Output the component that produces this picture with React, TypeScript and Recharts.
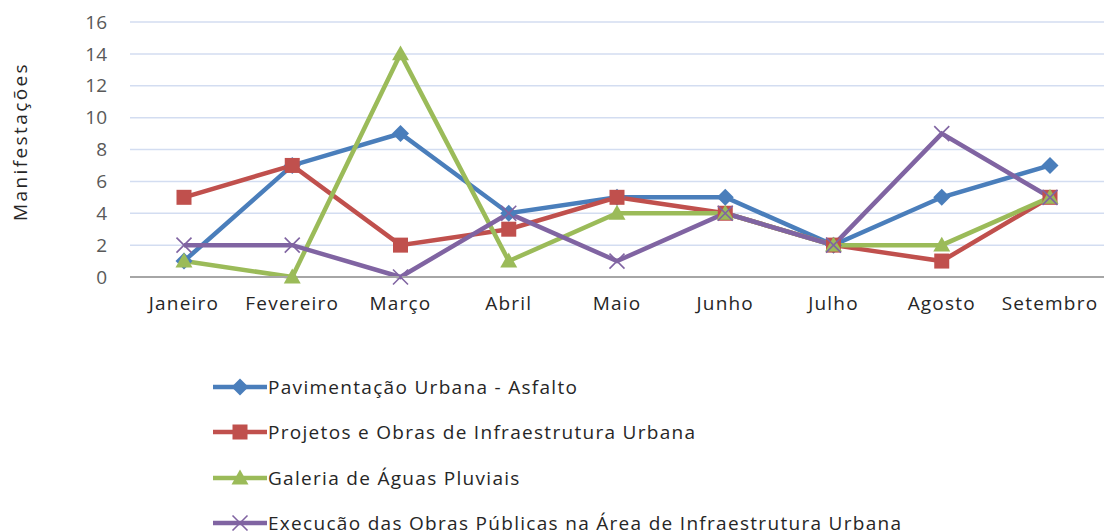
import React from "react";
import { LineChart, Line, XAxis, YAxis, CartesianGrid } from "recharts";

const months = ["Janeiro", "Fevereiro", "Março", "Abril", "Maio", "Junho", "Julho", "Agosto", "Setembro"];
const pavimentacao = [1, 7, 9, 4, 5, 5, 2, 5, 7];
const projetos = [5, 7, 2, 3, 5, 4, 2, 1, 5];
const galeria = [1, 0, 14, 1, 4, 4, 2, 2, 5];
const execucao = [2, 2, 0, 4, 1, 4, 2, 9, 5];
const yTicks = [0, 2, 4, 6, 8, 10, 12, 14, 16];

const FONT = "'Open Sans', sans-serif";

const series = [
  { key: "pav", name: "Pavimentação Urbana - Asfalto", color: "#4a7ebb", marker: "diamond" },
  { key: "proj", name: "Projetos e Obras de Infraestrutura Urbana", color: "#c0504d", marker: "square" },
  { key: "gal", name: "Galeria de Águas Pluviais", color: "#9bbb59", marker: "triangle" },
  { key: "exec", name: "Execucão das Obras Públicas na Área de Infraestrutura Urbana", color: "#8064a2", marker: "x" },
];

const data = months.map((m, i) => ({
  month: m,
  pav: pavimentacao[i],
  proj: projetos[i],
  gal: galeria[i],
  exec: execucao[i],
}));

function Marker({ type, cx, cy, color }: { type: string; cx: number; cy: number; color: string }) {
  if (cx == null || cy == null) return null;
  if (type === "diamond") {
    const r = 8.5;
    return <polygon points={`${cx},${cy - r} ${cx + r},${cy} ${cx},${cy + r} ${cx - r},${cy}`} fill={color} />;
  }
  if (type === "square") {
    const r = 7.5;
    return <rect x={cx - r} y={cy - r} width={r * 2} height={r * 2} fill={color} />;
  }
  if (type === "triangle") {
    const r = 8.5;
    return <polygon points={`${cx},${cy - r} ${cx + r},${cy + r * 0.75} ${cx - r},${cy + r * 0.75}`} fill={color} />;
  }
  const r = 7.5;
  return (
    <g stroke={color} strokeWidth={1.6}>
      <line x1={cx - r} y1={cy - r} x2={cx + r} y2={cy + r} />
      <line x1={cx - r} y1={cy + r} x2={cx + r} y2={cy - r} />
    </g>
  );
}

function YLabel(props: any) {
  const { viewBox } = props;
  const cx = 20;
  const cy = viewBox.y + viewBox.height / 2 - 8;
  return (
    <text
      x={cx}
      y={cy}
      transform={`rotate(-90, ${cx}, ${cy})`}
      textAnchor="middle"
      dominantBaseline="central"
      fill="#262626"
      fontSize={19}
      letterSpacing={2.4}
      fontFamily={FONT}
    >
      Manifestações
    </text>
  );
}

function LegendBox() {
  return (
    <div
      style={{
        position: "absolute",
        left: 211,
        top: 364,
        fontFamily: FONT,
        fontSize: 19,
        letterSpacing: 1.3,
        color: "#262626",
        whiteSpace: "nowrap",
      }}
    >
      {series.map((s) => (
        <div key={s.key} style={{ display: "flex", alignItems: "center", height: 45.5 }}>
          <svg width={57} height={20} style={{ display: "block" }}>
            <line x1={2} y1={10} x2={56} y2={10} stroke={s.color} strokeWidth={4.5} />
            <Marker type={s.marker} cx={29} cy={10} color={s.color} />
          </svg>
          <span>{s.name}</span>
        </div>
      ))}
    </div>
  );
}

export default function App() {
  return (
    <div style={{ position: "absolute", left: 0, top: 0, width: 1105, height: 531, background: "#fff", overflow: "hidden" }}>
      <LineChart width={1105} height={531} data={data} margin={{ top: 22, right: 1, left: 0, bottom: 214 }}>
        <CartesianGrid vertical={false} stroke="#d3ddf1" strokeWidth={1.5} />
        <XAxis
          dataKey="month"
          height={40}
          padding={{ left: 54, right: 54 }}
          tickLine={false}
          tickSize={0}
          tickMargin={20}
          interval={0}
          axisLine={{ stroke: "#a6a6a6", strokeWidth: 2 }}
          tick={{ fill: "#262626", fontSize: 19, fontFamily: FONT, letterSpacing: 1.2 }}
        />
        <YAxis
          width={130}
          domain={[0, 16]}
          ticks={yTicks}
          axisLine={false}
          tickLine={false}
          tickSize={0}
          tickMargin={23}
          tick={{ fill: "#595959", fontSize: 19, fontFamily: FONT }}
          label={{ content: YLabel }}
        />
        {series.map((s) => (
          <Line
            key={s.key}
            dataKey={s.key}
            name={s.name}
            stroke={s.color}
            strokeWidth={4.5}
            type="linear"
            isAnimationActive={false}
            dot={(p: any) => <Marker key={`${s.key}-${p.index}`} type={s.marker} cx={p.cx} cy={p.cy} color={s.color} />}
            activeDot={false}
          />
        ))}
      </LineChart>
      <LegendBox />
    </div>
  );
}
